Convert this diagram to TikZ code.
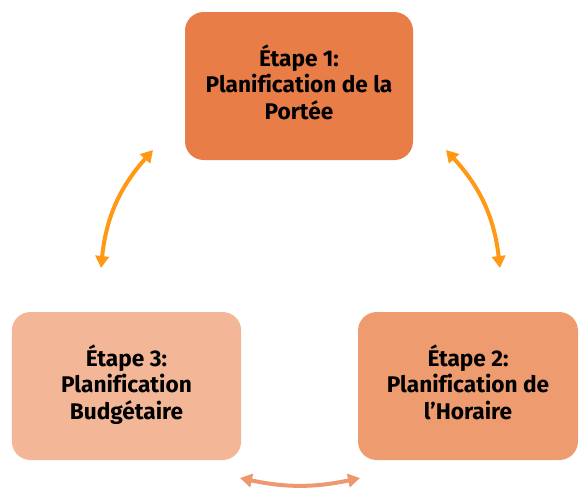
\documentclass[tikz,border=0pt]{standalone}
\usepackage{fontspec}
\setmainfont{Fira Sans}[Ligatures=NoCommon]
\usetikzlibrary{arrows.meta}

\definecolor{stepone}{RGB}{233,125,71}
\definecolor{steptwo}{RGB}{238,155,111}
\definecolor{stepthree}{RGB}{243,183,151}
\definecolor{linkorange}{RGB}{255,152,20}
\definecolor{linksalmon}{RGB}{237,152,110}

\tikzset{every picture/.style={line width=0.75pt}}
\tikzset{
  stepbox/.style={rounded corners=14pt, inner sep=0pt, align=center,
    font=\fontsize{17}{19.5}\selectfont\bfseries},
  cyclelink/.style={line width=3pt, {Triangle[length=9pt,width=10pt]}-{Triangle[length=9pt,width=10pt]}}
}

\begin{document}
\begin{tikzpicture}[x=0.75pt,y=0.75pt,yscale=-1,xscale=1]
\useasboundingbox (0,0) rectangle (579,487);

%Shape: Rounded Rect [step 1]
\node [stepbox, fill=stepone, minimum width=171pt, minimum height=111pt] (portee) at (299,86) {\raisebox{4pt}{\begin{tabular}{@{}c@{}}Étape 1:\\Planification de la\\Portée\end{tabular}}};
%Shape: Rounded Rect [step 2]
\node [stepbox, fill=steptwo, minimum width=165pt, minimum height=111pt] (horaire) at (468,386) {\raisebox{3pt}{\begin{tabular}{@{}c@{}}Étape 2:\\Planification de\\l’Horaire\end{tabular}}};
%Shape: Rounded Rect [step 3]
\node [stepbox, fill=stepthree, minimum width=172pt, minimum height=111pt] (budget) at (126.5,386) {\raisebox{3pt}{\begin{tabular}{@{}c@{}}Étape 3:\\Planification\\Budgétaire\end{tabular}}};

%Link ends
\coordinate (pl) at (153,150);
\coordinate (bt) at (101,268);
\coordinate (pr) at (446,150);
\coordinate (ht) at (500,268);
\coordinate (bb) at (240,478);
\coordinate (hb) at (360,478);

%Curved Arrows
\draw [cyclelink, color=linkorange] (pl) to[bend left=18] (bt);
\draw [cyclelink, color=linkorange] (pr) to[bend right=18] (ht);
\draw [cyclelink, color=linksalmon] (bb) to[bend left=12] (hb);

\end{tikzpicture}
\end{document}
